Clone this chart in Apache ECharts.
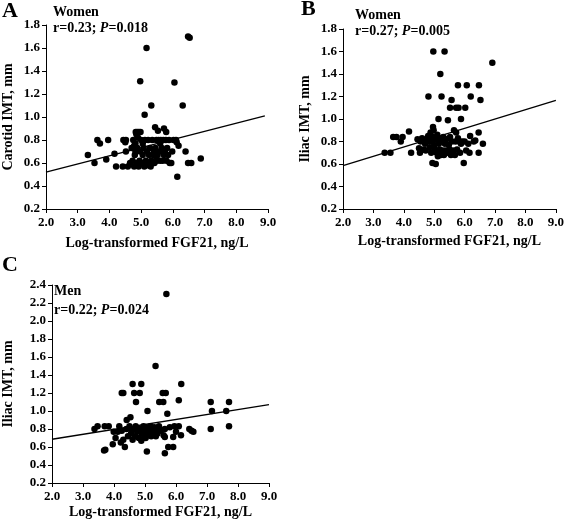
<!DOCTYPE html>
<html>
<head>
<meta charset="utf-8">
<script src="https://cdn.jsdelivr.net/npm/echarts@6/dist/echarts.min.js"></script>
<style>html,body{margin:0;padding:0;background:#fff}#c{width:567px;height:526px}</style>
</head>
<body>
<div id="c"></div>
<script>
// Panel A: Women, Carotid IMT
const pointsA = [
[5.17,1.60],[6.48,1.70],[6.53,1.69],[4.97,1.31],[6.05,1.30],[5.32,1.10],[6.31,1.10],[5.11,1.02],
[5.44,0.91],[5.53,0.88],[5.72,0.90],[5.79,0.87],
[4.83,0.87],[4.88,0.87],[4.93,0.87],[4.98,0.87],[4.85,0.85],
[3.32,0.67],[3.53,0.60],[3.62,0.80],[3.70,0.77],[3.90,0.63],[3.96,0.80],[4.16,0.68],[4.21,0.57],
[4.42,0.57],[4.44,0.80],[4.52,0.80],[4.50,0.78],[4.52,0.70],[4.58,0.57],[4.65,0.60],[4.70,0.73],
[4.73,0.62],[4.75,0.80],[4.78,0.57],[4.80,0.67],[4.82,0.77],[4.85,0.60],[4.88,0.73],[4.90,0.82],
[4.92,0.57],[4.95,0.62],[4.97,0.70],[5.00,0.80],[5.02,0.60],[5.05,0.67],[5.08,0.73],[5.10,0.57],
[5.12,0.80],[5.15,0.62],[5.18,0.70],[5.20,0.58],[5.22,0.80],[5.25,0.67],[5.28,0.73],[5.30,0.60],
[5.32,0.62],[5.35,0.80],[5.38,0.67],[5.40,0.70],[5.42,0.60],[5.45,0.73],[5.48,0.80],[5.50,0.62],
[5.52,0.67],[5.55,0.80],[5.58,0.70],[5.60,0.62],[5.62,0.80],[5.65,0.73],[5.68,0.62],[5.70,0.80],
[5.72,0.67],[5.75,0.70],[5.78,0.80],[5.80,0.62],[5.82,0.73],[5.85,0.67],[5.88,0.80],[5.90,0.60],
[5.95,0.60],[5.98,0.70],[6.02,0.80],[6.10,0.80],[6.14,0.48],[6.18,0.75],[6.12,0.78],[6.40,0.70],
[6.48,0.60],[6.58,0.60],[6.88,0.64],[4.78,0.75],[4.82,0.70],[5.05,0.77],[5.60,0.77],[5.30,0.57],[5.45,0.66]
];
const trendA = [[2.0,0.52],[8.9,1.01]];

// Panel B: Women, Iliac IMT
const pointsB = [
[4.97,1.60],[5.34,1.60],[5.20,1.40],[6.91,1.50],[4.81,1.20],[5.24,1.20],
[5.78,1.30],[6.07,1.30],[6.47,1.30],[6.20,1.20],[6.52,1.17],[5.57,1.17],
[5.52,1.10],[5.72,1.10],[5.80,1.10],[6.02,1.10],[5.14,1.00],[5.45,0.99],[5.88,1.00],
[4.17,0.89],[4.96,0.93],[4.98,0.90],
[3.37,0.70],[3.56,0.70],[3.65,0.84],[3.76,0.84],[3.96,0.84],[3.90,0.80],
[4.24,0.70],[4.53,0.70],[4.45,0.82],[4.50,0.74],[4.60,0.83],[4.65,0.73],[4.70,0.78],[4.75,0.82],
[4.80,0.85],[4.82,0.80],[4.85,0.75],[4.88,0.88],[4.90,0.70],[4.92,0.80],[4.94,0.61],[5.05,0.60],
[4.95,0.84],[5.00,0.77],[5.02,0.73],[5.05,0.82],[5.08,0.70],[5.10,0.86],[5.12,0.67],[5.15,0.78],
[5.18,0.73],[5.20,0.82],[5.22,0.68],[5.25,0.80],[5.28,0.72],[5.30,0.84],[5.32,0.68],[5.35,0.78],
[5.38,0.72],[5.40,0.82],[5.45,0.70],[5.48,0.77],[5.50,0.73],[5.52,0.84],[5.55,0.68],[5.58,0.80],
[5.62,0.72],[5.65,0.90],[5.68,0.68],[5.70,0.80],[5.72,0.88],[5.75,0.73],[5.78,0.83],[5.82,0.80],
[5.85,0.70],[5.88,0.78],[5.92,0.80],[5.97,0.61],[6.00,0.80],[6.05,0.72],[6.16,0.70],[6.18,0.85],
[6.12,0.78],[6.30,0.80],[6.35,0.81],[6.46,0.70],[6.46,0.88],[6.60,0.78],[4.55,0.80],[4.72,0.72]
];
const trendB = [[2.0,0.585],[9.0,1.166]];

// Panel C: Men, Iliac IMT
const pointsC = [
[5.69,2.30],[5.34,1.50],[4.25,1.20],[4.30,1.20],[4.60,1.30],[4.88,1.30],[4.65,1.20],[4.83,1.20],
[4.71,1.10],[6.17,1.30],[5.46,1.10],[5.59,1.10],[5.57,1.20],[5.67,1.20],[6.09,1.12],[5.72,0.97],
[5.08,1.00],[7.12,1.10],[7.16,1.00],[7.71,1.10],[7.62,1.00],[7.12,0.80],[7.71,0.83],
[3.37,0.80],[3.47,0.83],[3.70,0.83],[3.83,0.83],[3.68,0.56],[3.72,0.57],[3.96,0.63],[3.99,0.77],
[4.12,0.77],[4.22,0.65],[4.35,0.60],[4.17,0.83],[4.53,0.93],[4.41,0.90],[5.06,0.55],[5.64,0.53],
[5.75,0.60],[5.91,0.60],[5.91,0.71],[6.00,0.77],[6.16,0.73],[6.09,0.83],[5.95,0.83],[6.43,0.80],
[6.50,0.78],[6.56,0.77],[5.64,0.71],[5.64,0.80],
[4.05,0.70],[4.25,0.78],[4.30,0.68],[4.40,0.80],[4.45,0.72],[4.50,0.83],[4.55,0.75],[4.60,0.68],
[4.62,0.80],[4.68,0.72],[4.70,0.83],[4.75,0.77],[4.80,0.70],[4.85,0.80],[4.88,0.67],[4.90,0.75],
[4.95,0.83],[4.98,0.72],[5.00,0.78],[5.02,0.70],[5.05,0.82],[5.08,0.75],[5.10,0.73],[5.12,0.80],
[5.15,0.77],[5.18,0.83],[5.20,0.72],[5.22,0.78],[5.25,0.80],[5.28,0.75],[5.30,0.82],[5.35,0.72],
[5.38,0.80],[5.40,0.75],[5.45,0.83],[5.50,0.78],[5.60,0.73],[5.80,0.82],[4.58,0.78],[4.93,0.78]
];
const trendC = [[2.0,0.686],[9.0,1.072]];

const xTickMin = 2, xTickMax = 9, xTickStep = 1;

const FONT = "'Liberation Serif','Times New Roman',serif";
const chart = echarts.init(document.getElementById('c'), null, {renderer:'canvas'});

function xAxis(i, gap){
  return {gridIndex:i, type:'value', min:xTickMin, max:xTickMax, interval:xTickStep,
    name:'Log-transformed FGF21, ng/L', nameLocation:'middle', nameGap:gap,
    nameTextStyle:{fontFamily:FONT, fontWeight:'bold', fontSize:14, color:'#000'},
    axisLine:{lineStyle:{color:'#000', width:1}}, axisTick:{show:true, length:4, lineStyle:{color:'#000'}},
    axisLabel:{fontFamily:FONT, fontWeight:'bold', fontSize:13, color:'#000', margin:7, formatter:v=>v.toFixed(1)},
    splitLine:{show:false}};
}
function yAxis(i, max, name, gap){
  return {gridIndex:i, type:'value', min:0.2, max:max, interval:0.2,
    name:name, nameLocation:'middle', nameGap:gap,
    nameTextStyle:{fontFamily:FONT, fontWeight:'bold', fontSize:14, color:'#000'},
    axisLine:{show:true, lineStyle:{color:'#000', width:1}}, axisTick:{show:true, length:4, lineStyle:{color:'#000'}},
    axisLabel:{fontFamily:FONT, fontWeight:'bold', fontSize:13, color:'#000', margin:6, formatter:v=>v.toFixed(1)},
    splitLine:{show:false}};
}
function scatter(i, d){
  return {type:'scatter', xAxisIndex:i, yAxisIndex:i, data:d, symbolSize:6.5,
    itemStyle:{color:'#000', opacity:1}, silent:true, animation:false};
}
function trend(i, d){
  return {type:'line', xAxisIndex:i, yAxisIndex:i, data:d, symbol:'none',
    lineStyle:{color:'#000', width:1.3}, silent:true, animation:false};
}
function txt(x, y, s, size){
  return {type:'text', left:x, top:y, style:{text:s, font:'bold '+size+'px '+FONT, fill:'#000'}};
}
function rtxt(x, y, r, p){
  return {type:'text', left:x, top:y, style:{
    text:'{a|r='+r+'; }{b|P}{a|='+p+'}',
    rich:{a:{fontFamily:FONT, fontWeight:'bold', fontSize:14, fill:'#000', color:'#000'},
          b:{fontFamily:FONT, fontWeight:'bold', fontStyle:'italic', fontSize:14, fill:'#000', color:'#000'}}}};
}

chart.setOption({
  animation:false,
  backgroundColor:'#fff',
  grid:[
    {left:44, top:25, width:224, height:184},
    {left:343, top:29, width:215, height:180},
    {left:46, top:285, width:223, height:198}
  ],
  xAxis:[xAxis(0,27), xAxis(1,25), xAxis(2,22)],
  yAxis:[yAxis(0,1.8,'Carotid IMT, mm',31), yAxis(1,1.8,'Iliac IMT, mm',31), yAxis(2,2.4,'Iliac IMT, mm',37)],
  series:[scatter(0,pointsA), trend(0,trendA), scatter(1,pointsB), trend(1,trendB), scatter(2,pointsC), trend(2,trendC)],
  graphic:[
    txt(2,0,'A',22), txt(301,-2,'B',22), txt(2,254,'C',22),
    txt(53,5,'Women',14), rtxt(53,21,'0.23','0.018'),
    txt(355,8,'Women',14), rtxt(355,24,'0.27','0.005'),
    txt(54,284,'Men',14), rtxt(54,303,'0.22','0.024')
  ]
});
</script>
</body>
</html>
